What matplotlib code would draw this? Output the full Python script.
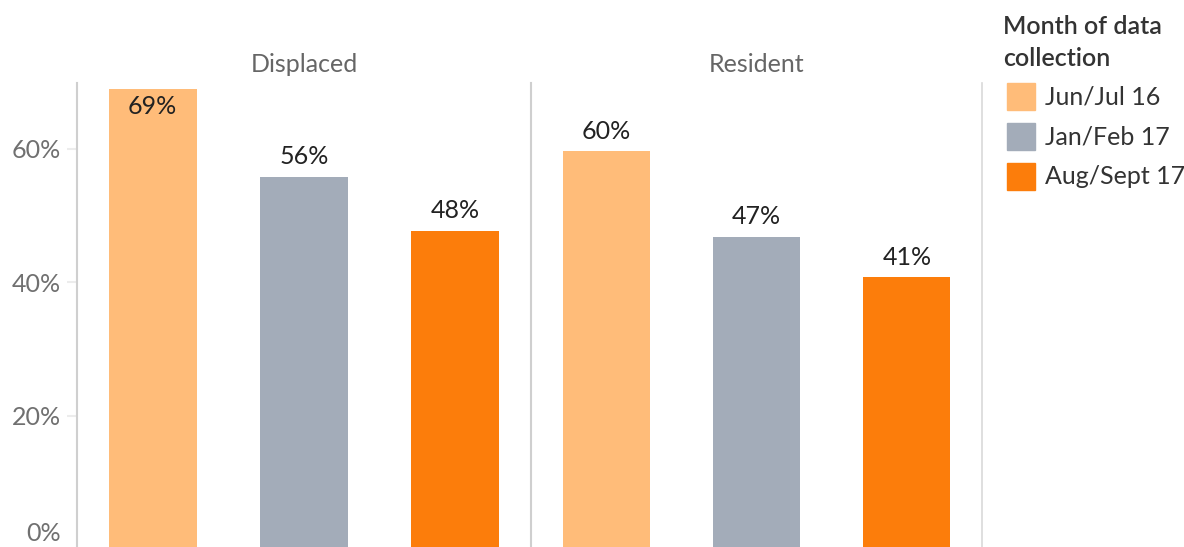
import matplotlib.pyplot as plt
import matplotlib.transforms as mtransforms
from matplotlib.patches import Rectangle

# data
panels = ['Displaced', 'Resident']
periods = ['Jun/Jul 16', 'Jan/Feb 17', 'Aug/Sept 17']
colors = ['#FFBC79', '#A3ACB9', '#FC7D0B']
displaced = [69.0, 55.8, 47.7]
resident = [59.6, 46.8, 40.8]
values = [displaced, resident]
yticks = [0, 20, 40, 60]

plt.rcParams['font.family'] = ['Lato', 'DejaVu Sans']

W, H = 1184, 547
fig = plt.figure(figsize=(W / 100, H / 100), dpi=100)

top = 83
zero = 549.6
edges = [77, 531, 982]
fs = 18
for i, name in enumerate(panels):
    x0, x1 = edges[i], edges[i + 1]
    ax = fig.add_axes([x0 / W, (H - zero) / H, (x1 - x0) / W, (zero - top) / H])
    xs = range(len(periods))
    ax.bar(xs, values[i], width=0.58, color=colors)
    ax.set_xlim(-0.5, 2.5)
    ax.set_ylim(0, 69.85)
    ax.set_xticks([])
    for x, v in zip(xs, values[i]):
        off = -18 if v > 66 else 20
        ax.annotate(f'{v:.0f}%', (x, v), xytext=(0, off), textcoords='offset pixels',
                    ha='center', va='center', fontsize=fs, color='#222222')
    for s in ['top', 'bottom']:
        ax.spines[s].set_visible(False)
    ax.spines['left'].set_color('#cfcfcf')
    ax.spines['left'].set_linewidth(1.5)
    ax.spines['right'].set_visible(i == 1)
    ax.spines['right'].set_color('#d9d9d9')
    ax.spines['right'].set_linewidth(1.2)
    if i == 0:
        ax.set_yticks(yticks)
        ax.set_yticklabels([f'{t}%' for t in yticks], fontsize=fs, color='#707070')
        ax.tick_params(axis='y', length=7.5, width=1.5, color='#ececec', pad=4)
        lab0 = ax.get_yticklabels()[0]
        lab0.set_va('bottom')
        lab0.set_transform(lab0.get_transform() +
                           mtransforms.ScaledTranslation(0, 5 / 100, fig.dpi_scale_trans))
    else:
        ax.set_yticks([])
    fig.text((x0 + x1) / 2 / W, 1 - 65 / H, name, ha='center', va='center',
             fontsize=fs, color='#666666')

# legend
fig.text(1003 / W, 1 - 15 / H, 'Month of data\ncollection', ha='left', va='top',
         fontsize=fs, color='#333333', fontweight='semibold', linespacing=1.45)
for j, (lab, c) in enumerate(zip(periods, colors)):
    y = 83 + 40 * j
    fig.patches.append(Rectangle((1007 / W, 1 - (y + 27) / H), 28 / W, 27 / H,
                                 transform=fig.transFigure, color=c))
    fig.text(1045 / W, 1 - (y + 14) / H, lab, ha='left', va='center',
             fontsize=fs, color='#333333')

fig.savefig('out.png', dpi=100)
